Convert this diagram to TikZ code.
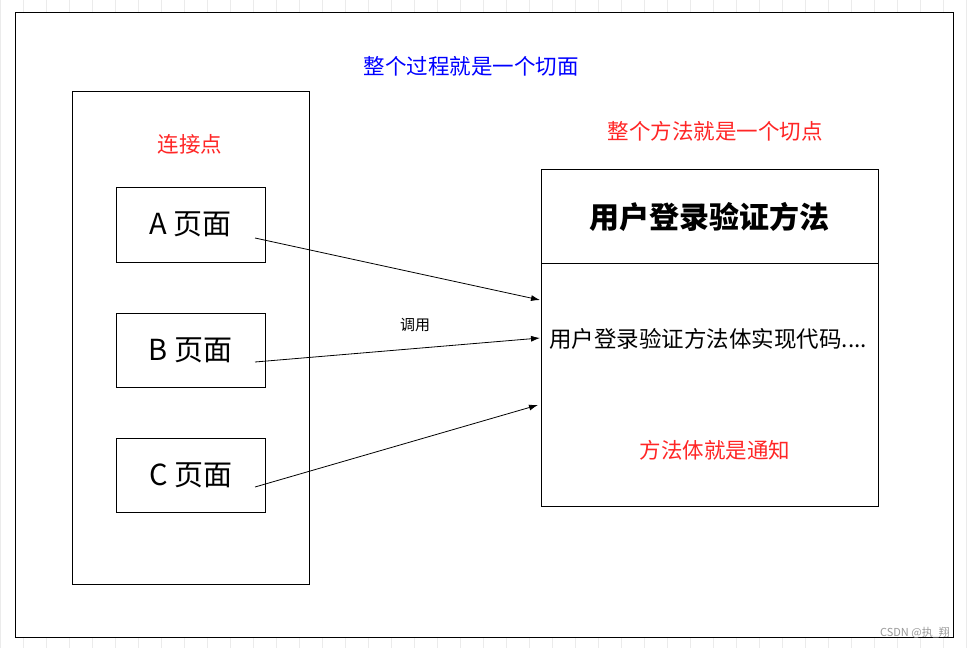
\documentclass[tikz,border=0pt]{standalone}
\usepackage{fontspec}
\setmainfont{Noto Sans CJK SC}
\usetikzlibrary{arrows.meta}
\begin{document}
\begin{tikzpicture}[x=1pt,y=-1pt,
  box/.style={draw,line width=0.8pt},
  arr/.style={-{Latex[length=9pt,width=6pt]},line width=0.8pt},
  red/.style={text=red!85!white, font=\fontsize{21.5}{25}\selectfont},
  lbl/.style={font=\fontsize{29}{33}\selectfont}]
\useasboundingbox (0,0) rectangle (969,648);
\fill[white] (0,0) rectangle (969,648);
\draw[black!8,step=23] (0,0) grid (969,648);
\draw[box,fill=white] (15,12) rectangle (953,637);
\draw[box] (72,91) rectangle (309,584);
\node[box,minimum width=149,minimum height=75,lbl] (a) at (190.5,224.5) {A 页面};
\node[box,minimum width=149,minimum height=74,lbl] (b) at (190.5,350) {B 页面};
\node[box,minimum width=149,minimum height=74,lbl] (c) at (190.5,475) {C 页面};
\draw[box] (541,169) rectangle (878,506);
\draw[box] (541,263) -- (878,263);
\node[font=\fontsize{30}{34}\selectfont\bfseries] (t) at (709,217) {用户登录验证方法};
\node[font=\fontsize{22.5}{26}\selectfont] (body) at (708,339) {用户登录验证方法体实现代码....};
\node[red] (n) at (715,450) {方法体就是通知};
\node[red] (jp) at (190,144) {连接点};
\node[red] (pc) at (715,131) {整个方法就是一个切点};
\node[text=blue, font=\fontsize{21.5}{25}\selectfont] (asp) at (471,66) {整个过程就是一个切面};
\node[font=\fontsize{15}{18}\selectfont] (call) at (415,325) {调用};
\node[text=black!40, font=\fontsize{11}{13}\selectfont] (wm) at (915,633) {CSDN @执\_翔};
\coordinate (ta) at (540,300);
\coordinate (tb) at (540,338);
\coordinate (tc) at (538,405);
\draw[arr] ([shift={(64.5,13.5)}]a.center) -- (ta);
\draw[arr] ([shift={(64.5,12)}]b.center) -- (tb);
\draw[arr] ([shift={(64.5,12)}]c.center) -- (tc);
\end{tikzpicture}
\end{document}
